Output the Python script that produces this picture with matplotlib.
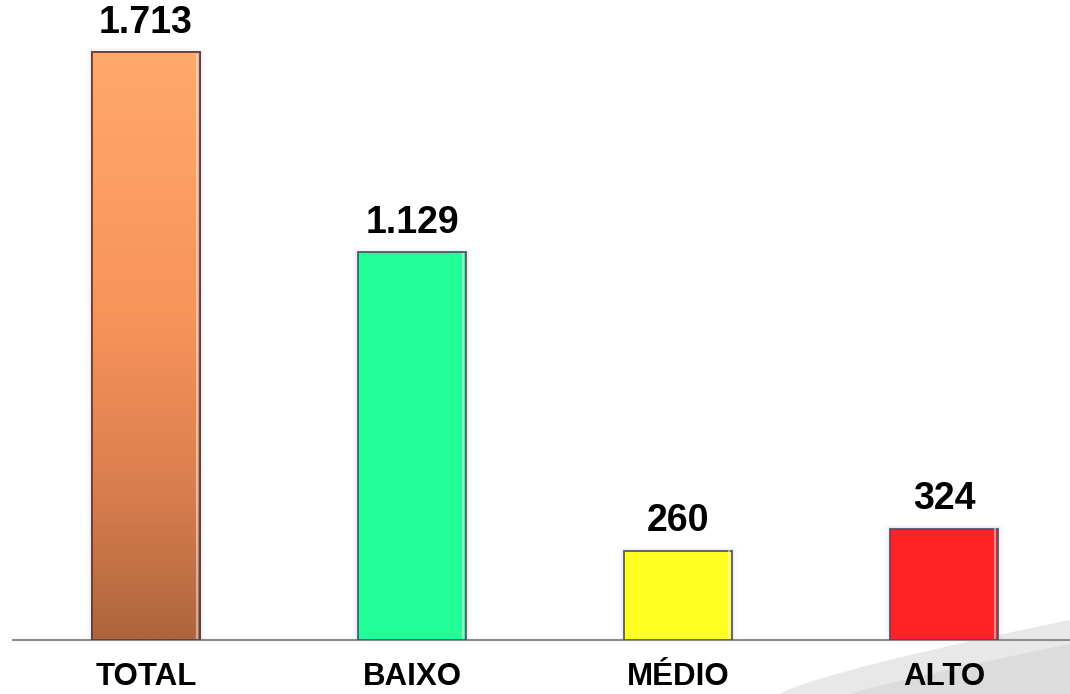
import matplotlib.pyplot as plt
import numpy as np
from matplotlib.colors import LinearSegmentedColormap
from matplotlib.patches import Polygon

# Data
categories = ["TOTAL", "BAIXO", "MÉDIO", "ALTO"]
values = [1713, 1129, 260, 324]
value_labels = ["1.713", "1.129", "260", "324"]
colors = ["#FA955A", "#22FF99", "#FFFF22", "#FF2226"]

plt.rcParams['font.family'] = ['Liberation Sans', 'DejaVu Sans']

fig = plt.figure(figsize=(10.70, 6.94), dpi=100)

# decorative grey swoosh bottom right
bg = fig.add_axes([0, 0, 1, 1], zorder=0)
bg.set_xlim(0, 1070)
bg.set_ylim(694, 0)
bg.axis('off')
sx = np.linspace(780, 1070, 50)
sy = 694 - 74 * ((sx - 780) / 290) ** 0.8
bg.add_patch(Polygon(np.column_stack([np.r_[sx, 1070, 780], np.r_[sy, 694, 694]]),
                     closed=True, facecolor="#E8E8E8", edgecolor="none"))
sx2 = np.linspace(850, 1070, 50)
sy2 = 694 - 50 * ((sx2 - 850) / 220) ** 0.9
bg.add_patch(Polygon(np.column_stack([np.r_[sx2, 1070, 850], np.r_[sy2, 694, 694]]),
                     closed=True, facecolor="#DCDCDC", edgecolor="none"))

ax = fig.add_axes([13 / 1070, 54 / 694, 1 - 13 / 1070, 640 / 694], zorder=1)
ax.patch.set_alpha(0)
x = np.arange(len(categories))
width = 0.406
ymax = 640 / (588 / 1713)

# soft glow behind bars
for i, v in enumerate(values):
    for k, a in enumerate([0.07, 0.08, 0.10]):
        grow = (3 - k) * 0.012
        ax.bar(x[i], v + (3 - k) * 4, width + grow, color="#C0BADF", alpha=a,
               edgecolor="none", zorder=1)

bars = ax.bar(x, values, width, color=colors, edgecolor="#4F4A66", linewidth=1.2, zorder=3)

# gradient for TOTAL bar
cmap = LinearSegmentedColormap.from_list(
    "tot", [(0, "#AE643D"), (0.25, "#D87E4E"), (0.55, "#F8935A"), (1, "#FFA96C")])
grad = np.linspace(0, 1, 256).reshape(-1, 1)
b0 = bars[0]
ax.imshow(grad, cmap=cmap, aspect='auto', origin='lower', zorder=3.5,
          extent=[b0.get_x(), b0.get_x() + b0.get_width(), 0, b0.get_height()])
ax.bar(x[0], values[0], width, color="none", edgecolor="#5A3A3A", linewidth=1.2, zorder=4)

# light highlight along right edge of each bar
for b in bars:
    ax.plot([b.get_x() + b.get_width() * 0.97] * 2, [values[0] * 0.004, b.get_height() * 0.995],
            color="white", alpha=0.45, linewidth=1.5, zorder=4)

for i, lab in enumerate(value_labels):
    ax.text(x[i], values[i] + 33, lab, ha='center', va='bottom',
            fontsize=27, fontweight='bold', color='black')

ax.set_xlim(-0.5, (1070 - 13) / 266 - 0.5)
ax.set_ylim(0, ymax)
ax.set_xticks(x)
ax.set_xticklabels(categories, fontsize=22.5, fontweight='bold')
ax.tick_params(axis='x', length=0, pad=16)
ax.set_yticks([])
for s in ['top', 'right', 'left']:
    ax.spines[s].set_visible(False)
ax.spines['bottom'].set_color('#8C8C8C')
ax.spines['bottom'].set_linewidth(1.5)
ax.spines['bottom'].set_zorder(2)

plt.savefig("out.png", dpi=100)
